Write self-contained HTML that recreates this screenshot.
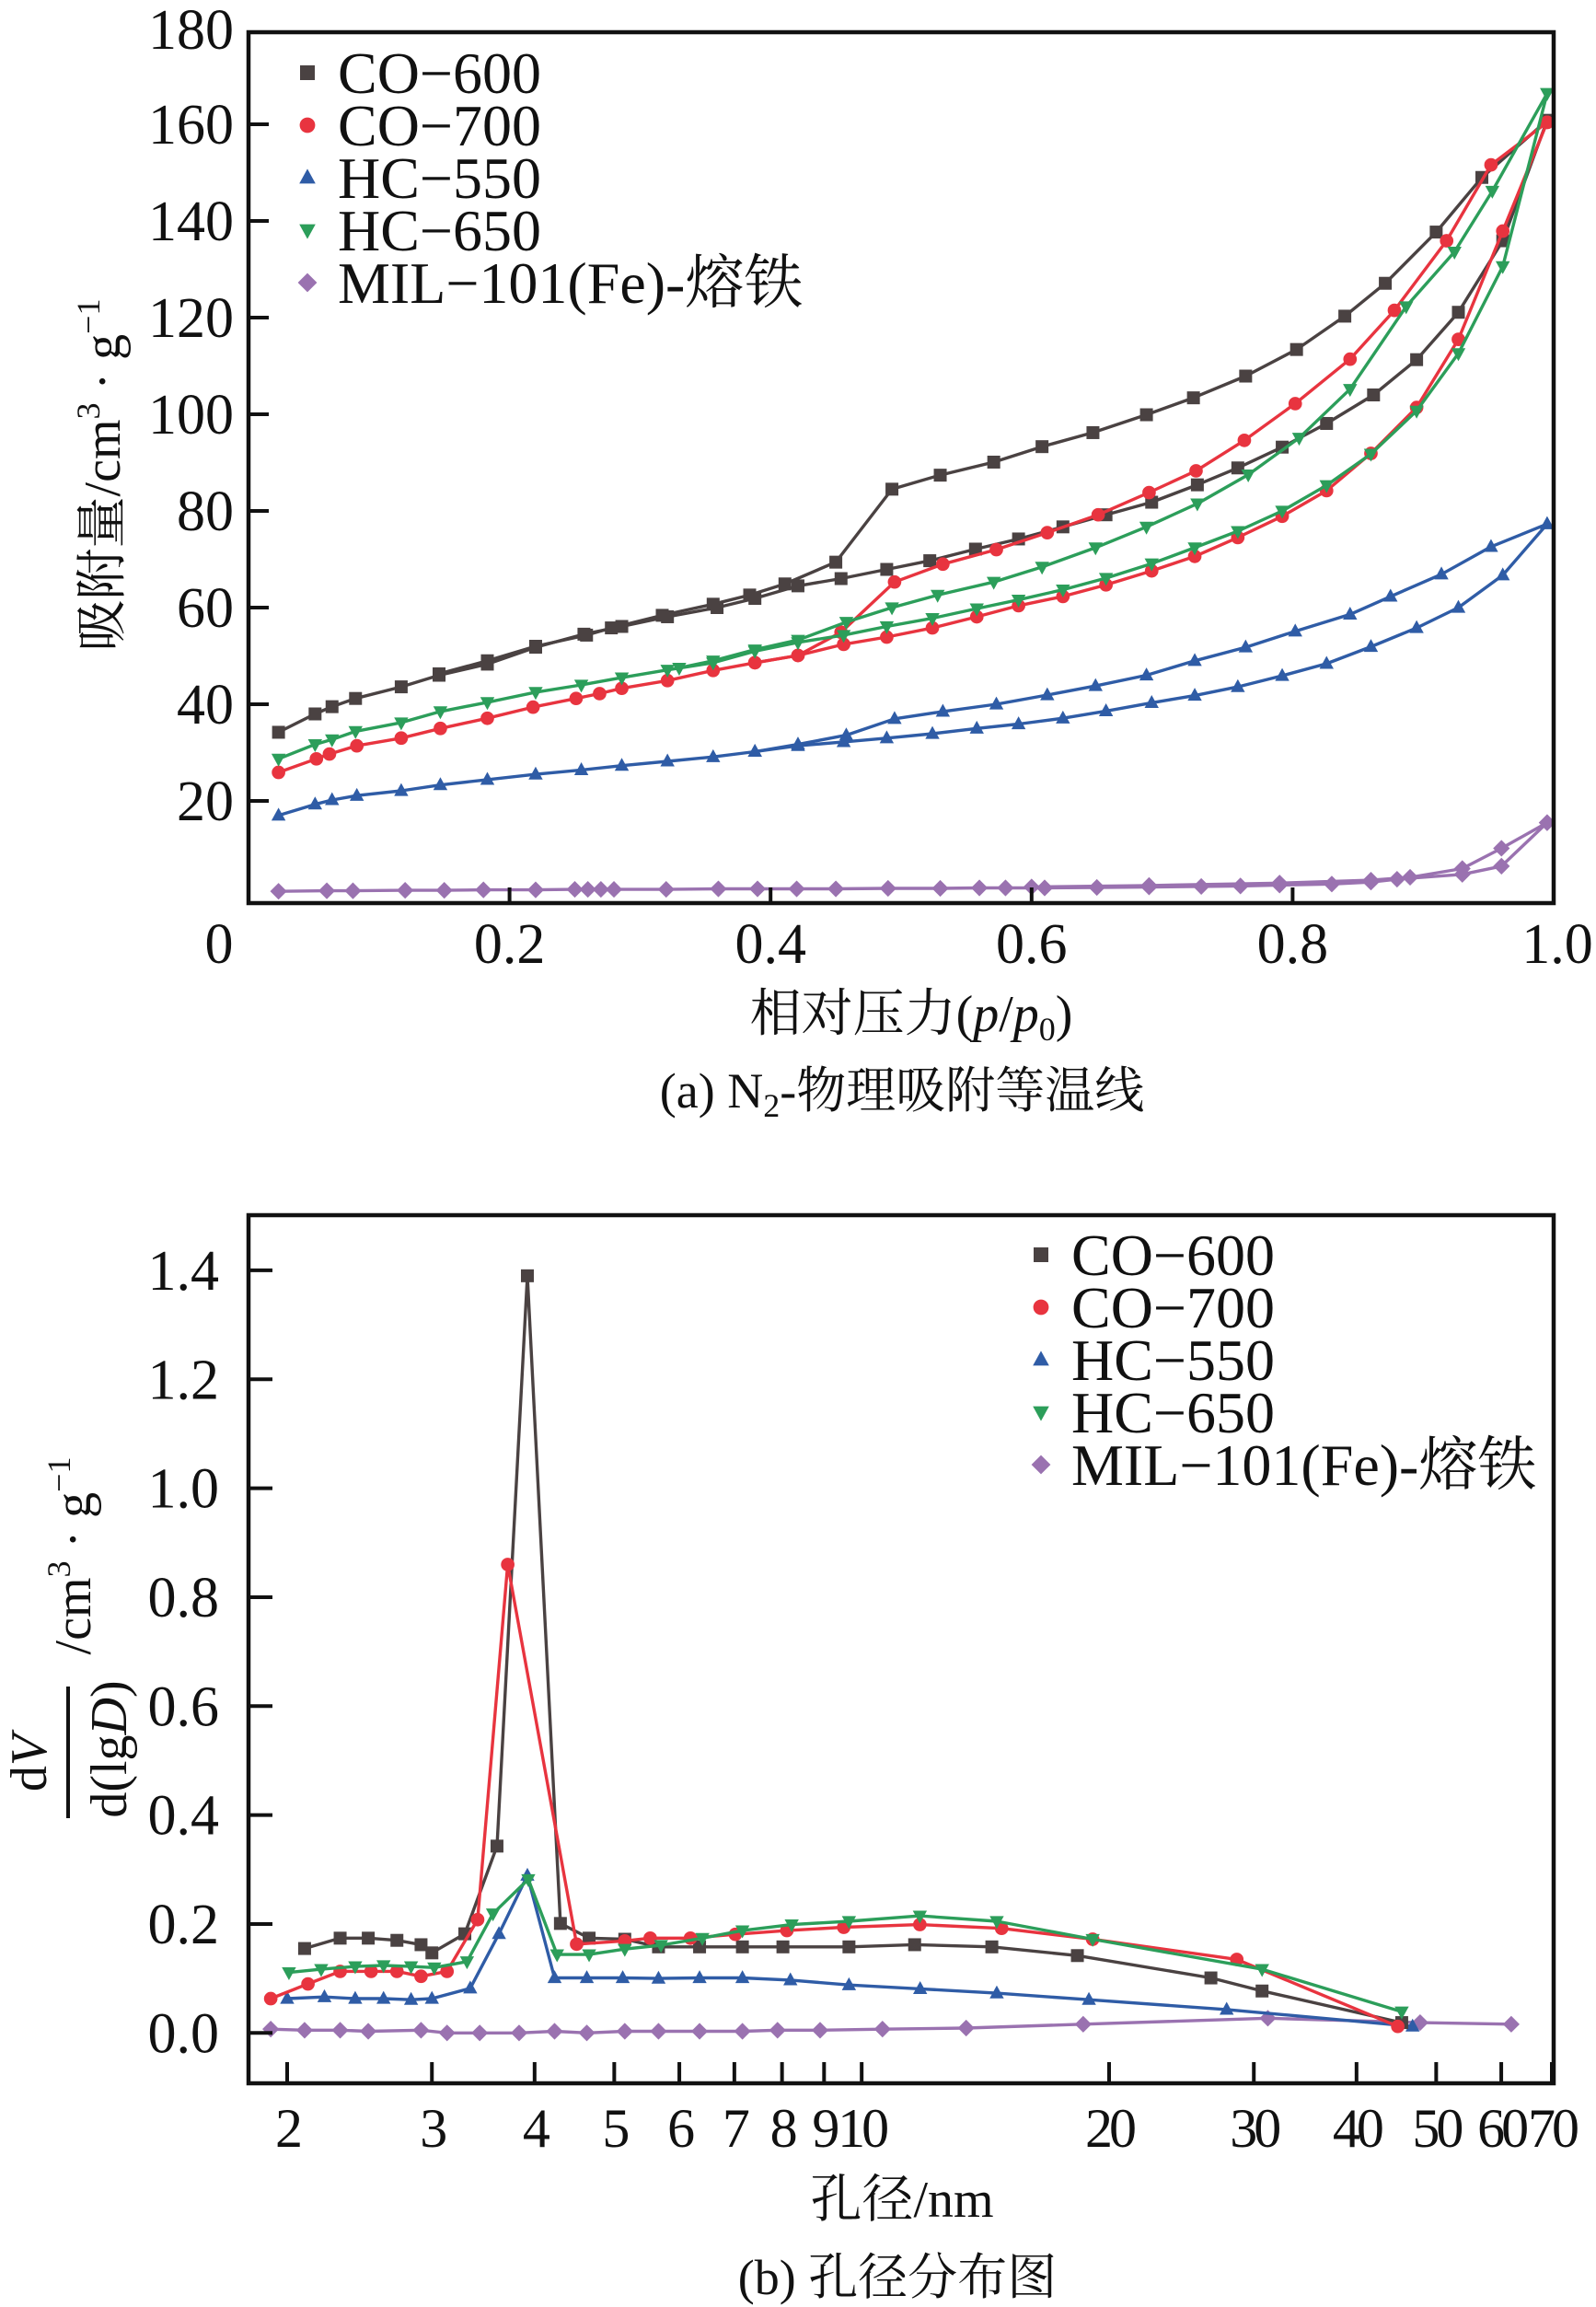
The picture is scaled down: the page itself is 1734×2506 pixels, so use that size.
<!DOCTYPE html>
<html><head><meta charset="utf-8">
<style>
html,body{margin:0;padding:0;background:#fff;}
svg{display:block;}
text{font-family:"Liberation Serif","Noto Serif CJK SC","Noto Sans CJK SC",serif;fill:#111;}
</style></head>
<body>
<svg id="fig" width="1734" height="2506" viewBox="0 0 1734 2506" xmlns="http://www.w3.org/2000/svg">
  <rect x="0" y="0" width="1734" height="2506" fill="#fff"/>
  <g id="pa"></g>
  <g id="pb"></g>
  <text transform="translate(130,516) rotate(-90)" text-anchor="middle" font-size="56">吸附量/cm<tspan font-size="36" dy="-22">3</tspan><tspan dy="22"> · g</tspan><tspan font-size="36" dy="-22">−1</tspan></text>
  <text x="990" y="1120" text-anchor="middle" font-size="56">相对压力(<tspan font-style="italic">p</tspan>/<tspan font-style="italic">p</tspan><tspan font-size="36" dy="10">0</tspan><tspan dy="-10">)</tspan></text>
  <text x="980" y="1203" text-anchor="middle" font-size="54">(a) N<tspan font-size="36" dy="10">2</tspan><tspan dy="-10">-物理吸附等温线</tspan></text>
  <g>
    <text transform="translate(50,1915) rotate(-90)" text-anchor="middle" font-size="56">d<tspan font-style="italic">V</tspan></text>
    <line x1="74" y1="1832" x2="74" y2="1975" stroke="#111" stroke-width="4"/>
    <text transform="translate(137,1900) rotate(-90)" text-anchor="middle" font-size="56">d(lg<tspan font-style="italic">D</tspan>)</text>
    <text transform="translate(98,1690) rotate(-90)" text-anchor="middle" font-size="56">/cm<tspan font-size="36" dy="-22">3</tspan><tspan dy="22"> · g</tspan><tspan font-size="36" dy="-22">−1</tspan></text>
  </g>
  <text x="980" y="2408" text-anchor="middle" font-size="56">孔径/nm</text>
  <text x="975" y="2492" text-anchor="middle" font-size="54">(b) 孔径分布图</text>
</svg>
<script>
// ---------- Data: chart (a) N2 isotherms ----------
const seriesNames = ["CO−600","CO−700","HC−550","HC−650","MIL−101(Fe)-熔铁"];
const seriesColors = ["#4a4242","#e8343f","#2f5ca6","#2c9e5a","#9a72b0"];
const seriesMarkers = ["square","circle","triangle","triangleDown","diamond"];
const aYTicks = [20,40,60,80,100,120,140,160,180];
const aXTicks = [0,0.2,0.4,0.6,0.8,1.0];
const aXTickLabels = ["0","0.2","0.4","0.6","0.8","1.0"];

const co600AdsP = [0.023,0.051,0.064,0.082,0.117,0.146,0.183,0.22,0.257,0.286,0.321,0.359,0.388,0.421,0.454,0.489,0.522,0.557,0.59,0.624,0.657,0.692,0.727,0.758,0.792,0.826,0.862,0.895,0.927,0.961,0.995];
const co600AdsV = [34.2,38,39.5,41.2,43.6,46,48.3,51.8,54.5,56.1,58.1,60,61.9,64.5,66,67.9,69.7,72.1,74.2,76.7,79.2,81.8,85.4,88.9,93.2,98.1,104,111.3,121.1,135.9,160.8];
const co600DesP = [0.995,0.945,0.91,0.871,0.84,0.803,0.764,0.724,0.688,0.647,0.608,0.571,0.53,0.493,0.45,0.411,0.384,0.356,0.317,0.278,0.259,0.22,0.183,0.146];
const co600DesV = [160.8,149,137.7,127.1,120.3,113.4,107.9,103.4,99.9,96.2,93.3,90.1,87.4,84.5,69.4,64.9,62.6,60.7,58.4,55.8,54.3,52,49,46.3];

const co700AdsP = [0.023,0.052,0.062,0.083,0.117,0.147,0.183,0.218,0.251,0.269,0.286,0.321,0.356,0.388,0.421,0.456,0.489,0.524,0.558,0.59,0.624,0.657,0.692,0.725,0.758,0.792,0.826,0.86,0.895,0.927,0.961,0.995];
const co700AdsV = [25.9,28.7,29.7,31.4,33,35,37.1,39.4,41.2,42.2,43.3,44.9,47,48.6,50.1,52.4,53.9,55.8,58.1,60.4,62.3,64.7,67.6,70.6,74.5,78.9,84.2,91.9,101.4,115.5,137.9,160.4];
const co700DesP = [0.995,0.952,0.918,0.878,0.844,0.802,0.763,0.726,0.69,0.651,0.612,0.573,0.532,0.495,0.454,0.421,0.388];
const co700DesV = [160.4,151.6,135.9,121.5,111.4,102.2,94.6,88.3,83.8,79.2,75.5,72,69,65.3,54.9,50.1,48.6];

const hc550AdsP = [0.023,0.051,0.064,0.083,0.117,0.147,0.183,0.22,0.255,0.286,0.321,0.356,0.388,0.421,0.456,0.489,0.524,0.558,0.59,0.624,0.657,0.692,0.725,0.758,0.792,0.826,0.86,0.895,0.927,0.961,0.995];
const hc550AdsV = [17,19.3,20.2,21.1,22.1,23.3,24.4,25.5,26.4,27.3,28.2,29.1,30.2,31.4,32.2,33,33.9,35,35.9,37.1,38.6,40.3,41.8,43.6,45.9,48.4,51.9,55.8,60,66.7,77.3];
const hc550DesP = [0.995,0.952,0.914,0.875,0.844,0.802,0.764,0.725,0.688,0.649,0.612,0.573,0.532,0.495,0.458,0.421,0.388];
const hc550DesV = [77.3,72.6,66.9,62.3,58.6,55.1,51.8,49,46,43.8,41.9,40,38.5,37,33.6,31.7,30.2];

const hc650AdsP = [0.023,0.051,0.064,0.082,0.117,0.147,0.183,0.22,0.255,0.286,0.321,0.356,0.388,0.421,0.456,0.489,0.524,0.558,0.59,0.624,0.657,0.692,0.725,0.758,0.792,0.826,0.86,0.895,0.927,0.961,0.995];
const hc650AdsV = [28.7,31.7,32.7,34.4,36.2,38.5,40.4,42.5,44,45.5,47.1,48.6,51,52.8,54.3,56.1,57.8,59.8,61.6,63.7,66.1,69.1,72.4,75.8,80,85.3,91.8,100.7,112.6,130.6,166.4];
const hc650DesP = [0.995,0.953,0.924,0.887,0.844,0.805,0.766,0.727,0.688,0.649,0.608,0.571,0.528,0.493,0.458,0.421,0.388,0.356,0.33];
const hc650DesV = [166.4,146.2,133.6,122.3,105.2,95.1,87.5,81.5,76.7,72.4,68.4,65.3,62.6,60,57,53.3,51.3,49,47.5];

const milAdsP = [0.023,0.06,0.08,0.12,0.15,0.18,0.22,0.25,0.26,0.27,0.28,0.32,0.36,0.39,0.42,0.45,0.49,0.53,0.56,0.58,0.61,0.65,0.69,0.73,0.76,0.79,0.83,0.86,0.88,0.93,0.96,0.995];
const milAdsV = [1.3,1.4,1.4,1.5,1.5,1.6,1.6,1.7,1.7,1.7,1.7,1.7,1.8,1.8,1.8,1.8,1.9,1.9,2.0,2.0,2.0,2.1,2.2,2.3,2.4,2.6,2.8,3.2,3.8,4.8,6.5,15.5];
const milDesP = [0.995,0.96,0.93,0.89,0.86,0.79,0.69,0.6];
const milDesV = [15.5,10.2,6,4.2,3.6,3,2.5,2.2];

// ---------- Data: chart (b) pore size distribution ----------
const bYTicks = [0.0,0.2,0.4,0.6,0.8,1.0,1.2,1.4];
const bYTickLabels = ["0.0","0.2","0.4","0.6","0.8","1.0","1.2","1.4"];
const bXTicks = [2,3,4,5,6,7,8,9,10,20,30,40,50,60,70];
const bXTickLabels = ["2","3","4","5","6","7","8","9","10","20","30","40","50","60","70"];

const co600D = [2.1,2.32,2.51,2.72,2.91,3.0,3.29,3.6,3.92,4.3,4.66,5.15,5.66,6.35,7.16,8.02,9.65,11.6,14.4,18.3,26.6,30.7,45.4];
const co600Dv = [0.155,0.174,0.174,0.170,0.162,0.147,0.182,0.343,1.39,0.201,0.174,0.172,0.158,0.158,0.158,0.158,0.158,0.162,0.158,0.142,0.101,0.077,0.019];
const co700D = [1.91,2.12,2.32,2.53,2.72,2.91,3.13,3.41,3.71,4.5,5.15,5.53,6.19,7.02,8.11,9.51,11.77,14.8,19.1,28.6,44.9];
const co700Dv = [0.063,0.09,0.113,0.113,0.113,0.104,0.113,0.208,0.86,0.163,0.169,0.174,0.174,0.181,0.188,0.194,0.199,0.192,0.172,0.135,0.012];
const hc550D = [2.0,2.22,2.42,2.62,2.83,3.0,3.34,3.62,3.92,4.23,4.63,5.12,5.66,6.35,7.16,8.19,9.65,11.78,14.6,18.9,27.8,46.8];
const hc550Dv = [0.063,0.066,0.063,0.063,0.061,0.063,0.082,0.182,0.289,0.101,0.101,0.101,0.100,0.101,0.101,0.097,0.088,0.081,0.073,0.061,0.043,0.012];
const hc650D = [2.01,2.2,2.42,2.62,2.83,3.02,3.31,3.56,3.93,4.26,4.66,5.15,5.7,6.4,7.16,8.22,9.65,11.77,14.6,19.1,30.7,45.4];
const hc650Dv = [0.111,0.117,0.122,0.124,0.122,0.12,0.131,0.219,0.282,0.144,0.144,0.154,0.161,0.174,0.188,0.199,0.205,0.215,0.205,0.172,0.117,0.039];
const milD = [1.91,2.1,2.32,2.51,2.91,3.13,3.43,3.83,4.23,4.63,5.15,5.66,6.35,7.16,7.9,8.9,10.6,13.4,18.6,31.2,47.8,61.7];
const milDv = [0.007,0.005,0.005,0.003,0.005,0,0,0,0.003,0,0.003,0.003,0.003,0.003,0.005,0.005,0.007,0.009,0.016,0.027,0.019,0.016];

const NS = "http://www.w3.org/2000/svg";
function mk(tag, attrs, parent){
  const e = document.createElementNS(NS, tag);
  for (const k in attrs) e.setAttribute(k, attrs[k]);
  parent.appendChild(e);
  return e;
}
function marker(kind, x, y, color, s, parent){
  let e;
  if (kind === "square") e = mk("rect",{x:x-s,y:y-s,width:2*s,height:2*s,fill:color},parent);
  else if (kind === "circle") e = mk("circle",{cx:x,cy:y,r:s*1.05,fill:color},parent);
  else if (kind === "triangle") e = mk("polygon",{points:`${x},${y-s*1.2} ${x+s*1.1},${y+s*0.8} ${x-s*1.1},${y+s*0.8}`,fill:color},parent);
  else if (kind === "triangleDown") e = mk("polygon",{points:`${x},${y+s*1.2} ${x+s*1.1},${y-s*0.8} ${x-s*1.1},${y-s*0.8}`,fill:color},parent);
  else e = mk("polygon",{points:`${x},${y-s*1.3} ${x+s*1.3},${y} ${x},${y+s*1.3} ${x-s*1.3},${y}`,fill:color},parent);
  return e;
}
function drawSeries(g, xs, ys, sx, sy, idx, name){
  const sg = mk("g",{},g);
  
  
  const pts = xs.map((v,i)=>sx(v).toFixed(1)+","+sy(ys[i]).toFixed(1)).join(" ");
  const pl = mk("polyline",{points:pts,fill:"none",stroke:seriesColors[idx],"stroke-width":3.4,"stroke-linejoin":"round"},sg);
  
  
  xs.forEach((v,i)=>{
    const m = marker(seriesMarkers[idx], sx(v), sy(ys[i]), seriesColors[idx], 7, sg);
    
    
  });
}
function legend(g, x0, y0, step){
  seriesNames.forEach((n,i)=>{
    const lg = mk("g",{},g);
    
    
    marker(seriesMarkers[i], x0, y0+i*step, seriesColors[i], 8, lg);
    const t = mk("text",{x:x0+33,y:y0+i*step+22,"font-size":64},lg);
    t.textContent = n;
  });
}

// ---------- Chart (a) ----------
(function(){
  const g = document.getElementById("pa");
  const L=270, R=1688, T=35, B=981;
  const sx = v => L + v*1418;
  const sy = v => 135 + (160 - v)*5.25;
  const clip = mk("clipPath",{id:"clipA"},g);
  mk("rect",{x:L,y:T,width:R-L,height:B-T},clip);
  const data = mk("g",{"clip-path":"url(#clipA)"},g);
  drawSeries(data, co600AdsP, co600AdsV, sx, sy, 0, "co600-adsorption");
  drawSeries(data, co600DesP, co600DesV, sx, sy, 0, "co600-desorption");
  drawSeries(data, co700AdsP, co700AdsV, sx, sy, 1, "co700-adsorption");
  drawSeries(data, co700DesP, co700DesV, sx, sy, 1, "co700-desorption");
  drawSeries(data, hc550AdsP, hc550AdsV, sx, sy, 2, "hc550-adsorption");
  drawSeries(data, hc550DesP, hc550DesV, sx, sy, 2, "hc550-desorption");
  drawSeries(data, hc650AdsP, hc650AdsV, sx, sy, 3, "hc650-adsorption");
  drawSeries(data, hc650DesP, hc650DesV, sx, sy, 3, "hc650-desorption");
  drawSeries(data, milAdsP, milAdsV, sx, sy, 4, "mil101-adsorption");
  drawSeries(data, milDesP, milDesV, sx, sy, 4, "mil101-desorption");
  const fr = mk("rect",{x:L,y:T,width:R-L,height:B-T,fill:"none",stroke:"#111","stroke-width":4.5},g);
  
  
  aYTicks.forEach(v=>{
    if (v < 180) mk("line",{x1:L,y1:sy(v),x2:L+22,y2:sy(v),stroke:"#111","stroke-width":4},g);
    const t = mk("text",{x:254,y:(v===180?32:sy(v))+21,"text-anchor":"end","font-size":62},g);
    
    
    t.textContent = String(v);
  });
  aXTicks.forEach((v,i)=>{
    if (v>0 && v<1) mk("line",{x1:sx(v),y1:B,x2:sx(v),y2:B-17,stroke:"#111","stroke-width":4},g);
    const xx = (v===0) ? 238 : (v===1 ? 1692 : sx(v));
    const t = mk("text",{x:xx,y:1046,"text-anchor":"middle","font-size":62},g);
    
    
    t.textContent = aXTickLabels[i];
  });
  const lg = mk("g",{},g);
  
  
  legend(lg, 334, 79, 57);
})();

// ---------- Chart (b) ----------
(function(){
  const g = document.getElementById("pb");
  const L=270, R=1688, T=1320, B=2263;
  const sx = d => 312 + (Math.log10(d) - Math.log10(2))*893;
  const sy = v => 2208.3 - v*591.7;
  const clip = mk("clipPath",{id:"clipB"},g);
  mk("rect",{x:L,y:T,width:R-L,height:B-T},clip);
  const data = mk("g",{"clip-path":"url(#clipB)"},g);
  drawSeries(data, milD, milDv, sx, sy, 4, "mil101-psd");
  drawSeries(data, hc550D, hc550Dv, sx, sy, 2, "hc550-psd");
  drawSeries(data, co600D, co600Dv, sx, sy, 0, "co600-psd");
  drawSeries(data, co700D, co700Dv, sx, sy, 1, "co700-psd");
  drawSeries(data, hc650D, hc650Dv, sx, sy, 3, "hc650-psd");
  const fr = mk("rect",{x:L,y:T,width:R-L,height:B-T,fill:"none",stroke:"#111","stroke-width":4.5},g);
  
  
  bYTicks.forEach((v,i)=>{
    mk("line",{x1:L,y1:sy(v),x2:L+26,y2:sy(v),stroke:"#111","stroke-width":4},g);
    const t = mk("text",{x:238,y:sy(v)+21,"text-anchor":"end","font-size":62},g);
    
    
    t.textContent = bYTickLabels[i];
  });
  bXTicks.forEach((d,i)=>{
    const x = Math.min(sx(d), R-2);
    mk("line",{x1:x,y1:B,x2:x,y2:B-23,stroke:"#111","stroke-width":4},g);
    const t = mk("text",{x:x,y:2332,"text-anchor":"middle","font-size":60,"letter-spacing":"-4"},g);
    
    
    t.textContent = bXTickLabels[i];
  });
  const lg = mk("g",{},g);
  
  
  legend(lg, 1131, 1363, 57);
})();
</script>
</body></html>
